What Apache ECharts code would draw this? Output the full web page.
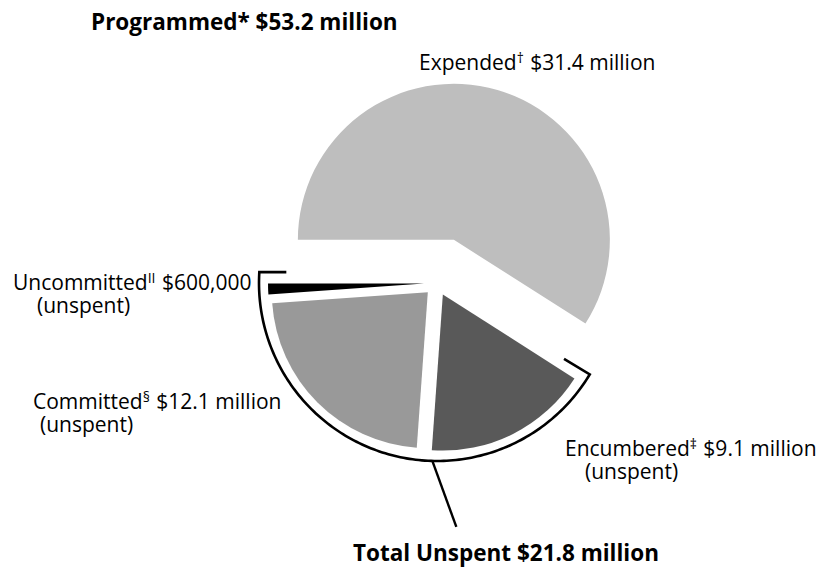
<!DOCTYPE html>
<html>
<head>
<meta charset="utf-8">
<script src="https://cdn.jsdelivr.net/npm/echarts@6/dist/echarts.min.js"></script>
<style>html,body{margin:0;padding:0;background:#fff}#c{width:818px;height:567px}</style>
</head>
<body>
<div id="c"></div>
<script>
// ---- data ----
const categories = ['Expended', 'Encumbered', 'Committed', 'Uncommitted'];
const footnotes = ['\u2020', '\u2021', '\u00a7', 'II'];
const values = [31.4, 9.1, 12.1, 0.6];   // $ millions
const spentFlags = [true, false, false, false];
const colors = ['#bebebe', '#595959', '#999999', '#000000'];

const total = values.reduce((a, b) => a + b, 0);
const unspent = values.reduce((a, v, i) => a + (spentFlags[i] ? 0 : v), 0);

function money(v) {
  if (v >= 1) return '$' + v.toFixed(1) + ' million';
  return '$' + Math.round(v * 1e6).toLocaleString('en-US');
}

// ---- layout (styles only) ----
const CX = 437, CY = 283, R = 156;
const FONT = '"Open Sans", sans-serif';
const START = 180;

const chart = echarts.init(document.getElementById('c'), null, {renderer: 'svg'});

function pieData(showSpent) {
  return categories.map((n, i) => {
    const show = spentFlags[i] === showSpent;
    return {
      name: n, value: values[i], selected: show,
      itemStyle: {color: show ? colors[i] : 'rgba(0,0,0,0)'}
    };
  });
}

const baseSeries = {
  type: 'pie', radius: [0, R], startAngle: START, clockwise: true,
  selectedMode: 'multiple', silent: true, animation: false,
  label: {show: false}, labelLine: {show: false},
  emphasis: {disabled: true}, itemStyle: {borderWidth: 0},
  avoidLabelOverlap: false, minAngle: 0
};

// bracket around the unspent part (angles derived from the data)
const spentDeg = 360 * values.reduce((a, v, i) => a + (spentFlags[i] ? v : 0), 0) / total;
const aStart = START - spentDeg + 1.6;  // math degrees
const aEndMath = START - 360 - 3.5;
const BR = 178, TICK = 27;
function pt(r, deg) {
  const t = deg * Math.PI / 180;
  return [CX + r * Math.cos(t), CY - r * Math.sin(t)];
}
const bracket = [];
bracket.push(pt(BR - TICK - 3, aStart));
for (let a = aStart; a >= aEndMath; a -= 1) bracket.push(pt(BR, a));
bracket.push(pt(BR, aEndMath));
const endP = pt(BR, aEndMath);
bracket.push([endP[0] + TICK, endP[1]]);
const leadStart = pt(BR, -91.5);
const leadEnd = [leadStart[0] + 24, leadStart[1] + 66];

const rich = {
  sup: {fontSize: 14, lineHeight: 14, fontFamily: FONT, fill: '#000', padding: [0, 1, 9, 0]},
  ind: {width: 1, lineHeight: 23}
};

function labelText(i, indent) {
  let s = categories[i] + '{sup|' + footnotes[i] + '} ' + money(values[i]);
  if (!spentFlags[i]) s += '\n{ind|}' + ' '.repeat(0) + '(unspent)';
  return s;
}

function txt(x, y, text, bold, indent) {
  const r = Object.assign({}, rich);
  if (indent) r.ind = {width: indent, lineHeight: 23, fontSize: 21, fontFamily: FONT};
  return {
    type: 'text', x: x, y: y, silent: true,
    style: {
      text: text, fill: '#000', font: (bold ? 'bold 22.5px ' : '21px ') + FONT,
      lineHeight: 23, textAlign: 'left', textVerticalAlign: 'middle', rich: r
    }
  };
}

// [x, y-center of block, indent of second line]
const labelPos = [
  [419, 62, 0],
  [565, 459, 20],
  [33, 412.5, 7],
  [13, 293, 24]
];

const graphics = [
  {type: 'polyline', silent: true, shape: {points: bracket}, style: {stroke: '#000', lineWidth: 2.6, fill: null}},
  {type: 'line', silent: true, shape: {x1: leadStart[0], y1: leadStart[1], x2: leadEnd[0], y2: leadEnd[1]}, style: {stroke: '#000', lineWidth: 2.4}},
  txt(91, 21, 'Programmed* ' + money(total), true),
  txt(353, 552, 'Total Unspent ' + money(unspent), true)
];
labelPos.forEach((p, i) => {
  graphics.push(txt(p[0], p[1], labelText(i), false, p[2]));
});

chart.setOption({
  animation: false,
  backgroundColor: '#fff',
  series: [
    Object.assign({}, baseSeries, {name: 'spent', center: [CX + 4, CY + 1], selectedOffset: 46, data: pieData(true)}),
    Object.assign({}, baseSeries, {name: 'unspent', center: [CX, CY], selectedOffset: 13, data: pieData(false)})
  ],
  graphic: graphics
});
</script>
</body>
</html>
